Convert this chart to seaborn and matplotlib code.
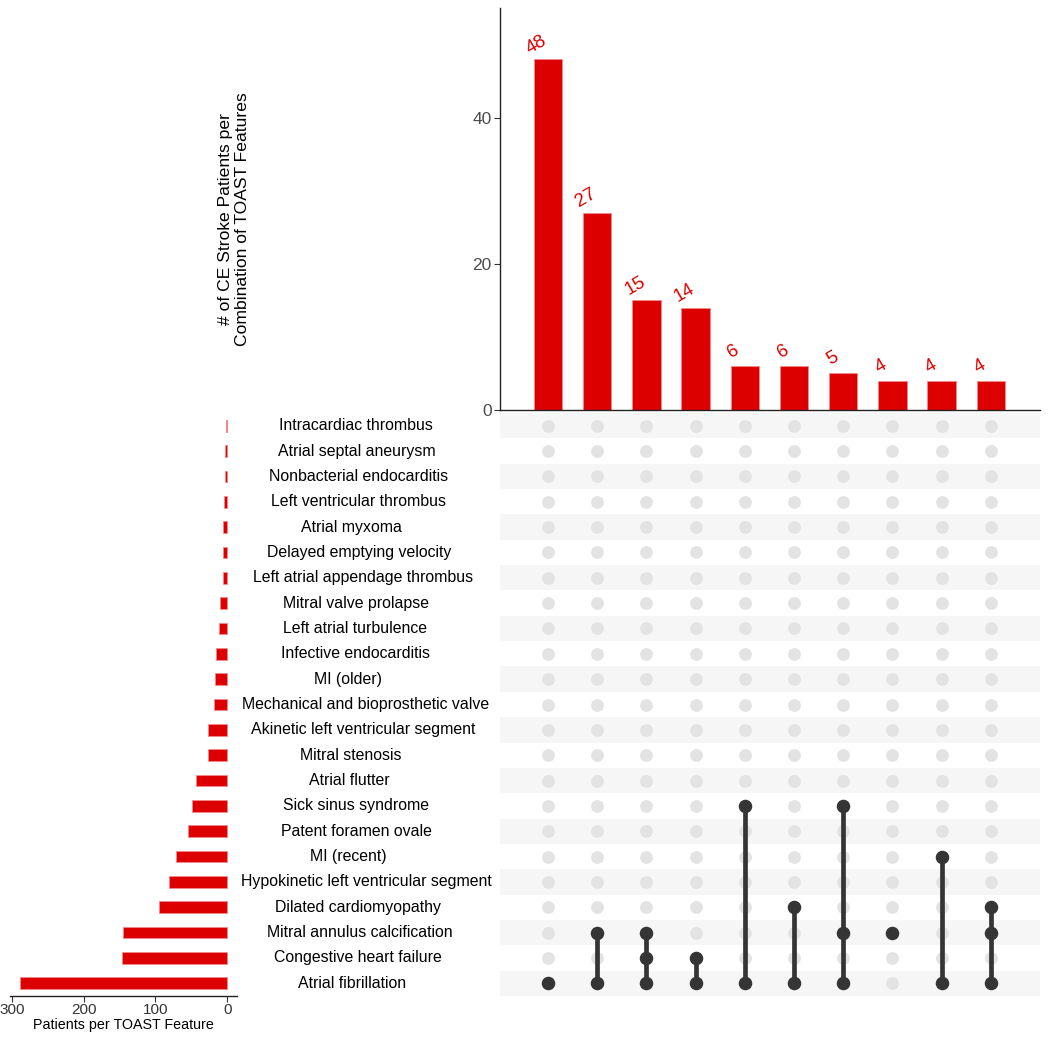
import numpy as np
import pandas as pd
import matplotlib
matplotlib.use("Agg")
import matplotlib.pyplot as plt
import matplotlib.transforms as mtransforms
import seaborn as sns

# ---------------- data ----------------
features = [  # top to bottom
    "Intracardiac thrombus",
    "Atrial septal aneurysm",
    "Nonbacterial endocarditis",
    "Left ventricular thrombus",
    "Atrial myxoma",
    "Delayed emptying velocity",
    "Left atrial appendage thrombus",
    "Mitral valve prolapse",
    "Left atrial turbulence",
    "Infective endocarditis",
    "MI (older)",
    "Mechanical and bioprosthetic valve",
    "Akinetic left ventricular segment",
    "Mitral stenosis",
    "Atrial flutter",
    "Sick sinus syndrome",
    "Patent foramen ovale",
    "MI (recent)",
    "Hypokinetic left ventricular segment",
    "Dilated cardiomyopathy",
    "Mitral annulus calcification",
    "Congestive heart failure",
    "Atrial fibrillation",
]
set_sizes = [2, 3, 3, 4, 6, 6, 6, 10, 12, 16, 17, 18, 27, 27, 44, 49, 54, 71, 81, 95, 145, 147, 288]

combinations = [
    ["Atrial fibrillation"],
    ["Atrial fibrillation", "Mitral annulus calcification"],
    ["Atrial fibrillation", "Congestive heart failure", "Mitral annulus calcification"],
    ["Atrial fibrillation", "Congestive heart failure"],
    ["Atrial fibrillation", "Sick sinus syndrome"],
    ["Atrial fibrillation", "Dilated cardiomyopathy"],
    ["Atrial fibrillation", "Mitral annulus calcification", "Sick sinus syndrome"],
    ["Mitral annulus calcification"],
    ["Atrial fibrillation", "MI (recent)"],
    ["Atrial fibrillation", "Mitral annulus calcification", "Dilated cardiomyopathy"],
]
combo_counts = [48, 27, 15, 14, 6, 6, 5, 4, 4, 4]

top_yticks = [0, 20, 40]
left_xticks = [300, 200, 100, 0]
top_ylabel = "# of CE Stroke Patients per\nCombination of TOAST Features"
left_xlabel = "Patients per TOAST Feature"

# ---------------- style ----------------
RED = "#DC0000"
DARK = "#353535"
LIGHT = "#E3E3E3"
STRIPE = "#F6F6F6"
FONT = "Liberation Sans"

sns.set_theme(style="white")
plt.rcParams["font.family"] = [FONT, "DejaVu Sans"]

W, H = 1050, 1040
fig = plt.figure(figsize=(W / 100, H / 100), dpi=100)


def px_rect(x0, y0, x1, y1):
    return [x0 / W, 1 - y1 / H, (x1 - x0) / W, (y1 - y0) / H]


ax_top = fig.add_axes(px_rect(500, 8, 1040, 410))
ax_mat = fig.add_axes(px_rect(500, 413, 1040, 996))
ax_left = fig.add_axes(px_rect(10, 413, 237, 996))

n_rows = len(features)
n_cols = len(combo_counts)
col_labels = [" & ".join(c) for c in combinations]

# ---------------- top bar chart ----------------
df_top = pd.DataFrame({"combo": col_labels, "count": combo_counts})
sns.barplot(data=df_top, x="combo", y="count", order=col_labels, color=RED,
            saturation=1, width=0.58, edgecolor="#F08A8A", linewidth=0.6, ax=ax_top)
for i, v in enumerate(combo_counts):
    ax_top.annotate(str(v), xy=(i, v), xytext=(-8, 10.5), textcoords="offset points",
                    ha="center", va="center", rotation=30, color=RED, fontsize=13.5)
ax_top.set_xlim(-0.976, n_cols)
ax_top.set_ylim(0, 55)
ax_top.set_yticks(top_yticks)
ax_top.set_xticks([])
ax_top.set_xlabel("")
ax_top.set_ylabel("")
ax_top.tick_params(axis="y", left=True, length=4, width=0.8, color="#333333",
                   labelsize=12.5, labelcolor="#4D4D4D", pad=2)
for s in ["top", "right"]:
    ax_top.spines[s].set_visible(False)
for s in ["left", "bottom"]:
    ax_top.spines[s].set_color("#222222")
    ax_top.spines[s].set_linewidth(1.0)
ax_top.set_facecolor("none")

fig.text(234 / W, 1 - 219 / H, top_ylabel, rotation=90, ha="center", va="center",
         multialignment="center", fontsize=12.6, color="black", linespacing=1.1)

# ---------------- matrix ----------------
for r in range(n_rows):
    if r % 2 == 0:
        ax_mat.axhspan(r - 0.5, r + 0.5, color=STRIPE, lw=0, zorder=0)

grid = pd.DataFrame([(c, r) for c in range(n_cols) for r in range(n_rows)], columns=["col", "row"])
sns.scatterplot(data=grid, x="col", y="row", color=LIGHT, s=85, linewidth=0, ax=ax_mat, zorder=2)

active = []
for c, combo in enumerate(combinations):
    rows = [features.index(f) for f in combo]
    for r in rows:
        active.append((c, r))
    if len(rows) > 1:
        ax_mat.plot([c, c], [min(rows), max(rows)], color=DARK, lw=3.4, zorder=3,
                    solid_capstyle="butt")
df_act = pd.DataFrame(active, columns=["col", "row"])
sns.scatterplot(data=df_act, x="col", y="row", color=DARK, s=95, linewidth=0, ax=ax_mat, zorder=4)

ax_mat.set_xlim(-0.976, n_cols)
ax_mat.set_ylim(n_rows - 0.5, -0.5)
ax_mat.set_xticks([])
ax_mat.set_yticks([])
ax_mat.set_xlabel("")
ax_mat.set_ylabel("")
for s in ax_mat.spines.values():
    s.set_visible(False)
ax_mat.set_facecolor("none")

# ---------------- left set-size bars ----------------
df_left = pd.DataFrame({"feature": features, "size": set_sizes})
sns.barplot(data=df_left, x="size", y="feature", order=features, orient="h", color=RED,
            saturation=1, width=0.46, edgecolor="#F08A8A", linewidth=0.6, ax=ax_left)
ax_left.set_xlim(302.4, -13.5)
ax_left.set_ylim(n_rows - 0.5, -0.5)
ax_left.set_xticks(left_xticks)
ax_left.set_yticks([])
ax_left.set_ylabel("")
ax_left.set_xlabel(left_xlabel, fontsize=10.3, color="black", labelpad=1)
ax_left.tick_params(axis="x", bottom=True, length=4, width=0.8, color="#333333",
                    labelsize=11, labelcolor="#333333", pad=1)
for s in ["top", "right", "left"]:
    ax_left.spines[s].set_visible(False)
ax_left.spines["bottom"].set_color("#222222")
ax_left.spines["bottom"].set_linewidth(1.0)
ax_left.set_facecolor("none")

# ---------------- feature labels (hjust ~0.4 around anchor) ----------------
trans = mtransforms.blended_transform_factory(fig.transFigure, ax_mat.transData)
texts = []
for r, name in enumerate(features):
    t = fig.text(0, r, name, transform=trans, ha="left", va="center",
                 fontsize=11.4, color="black")
    texts.append(t)
renderer = fig.canvas.get_renderer()
anchor_px = 341
for t in texts:
    w = t.get_window_extent(renderer).width
    t.set_x((anchor_px - 0.4 * w) / W)

fig.savefig("out.png", dpi=100)
